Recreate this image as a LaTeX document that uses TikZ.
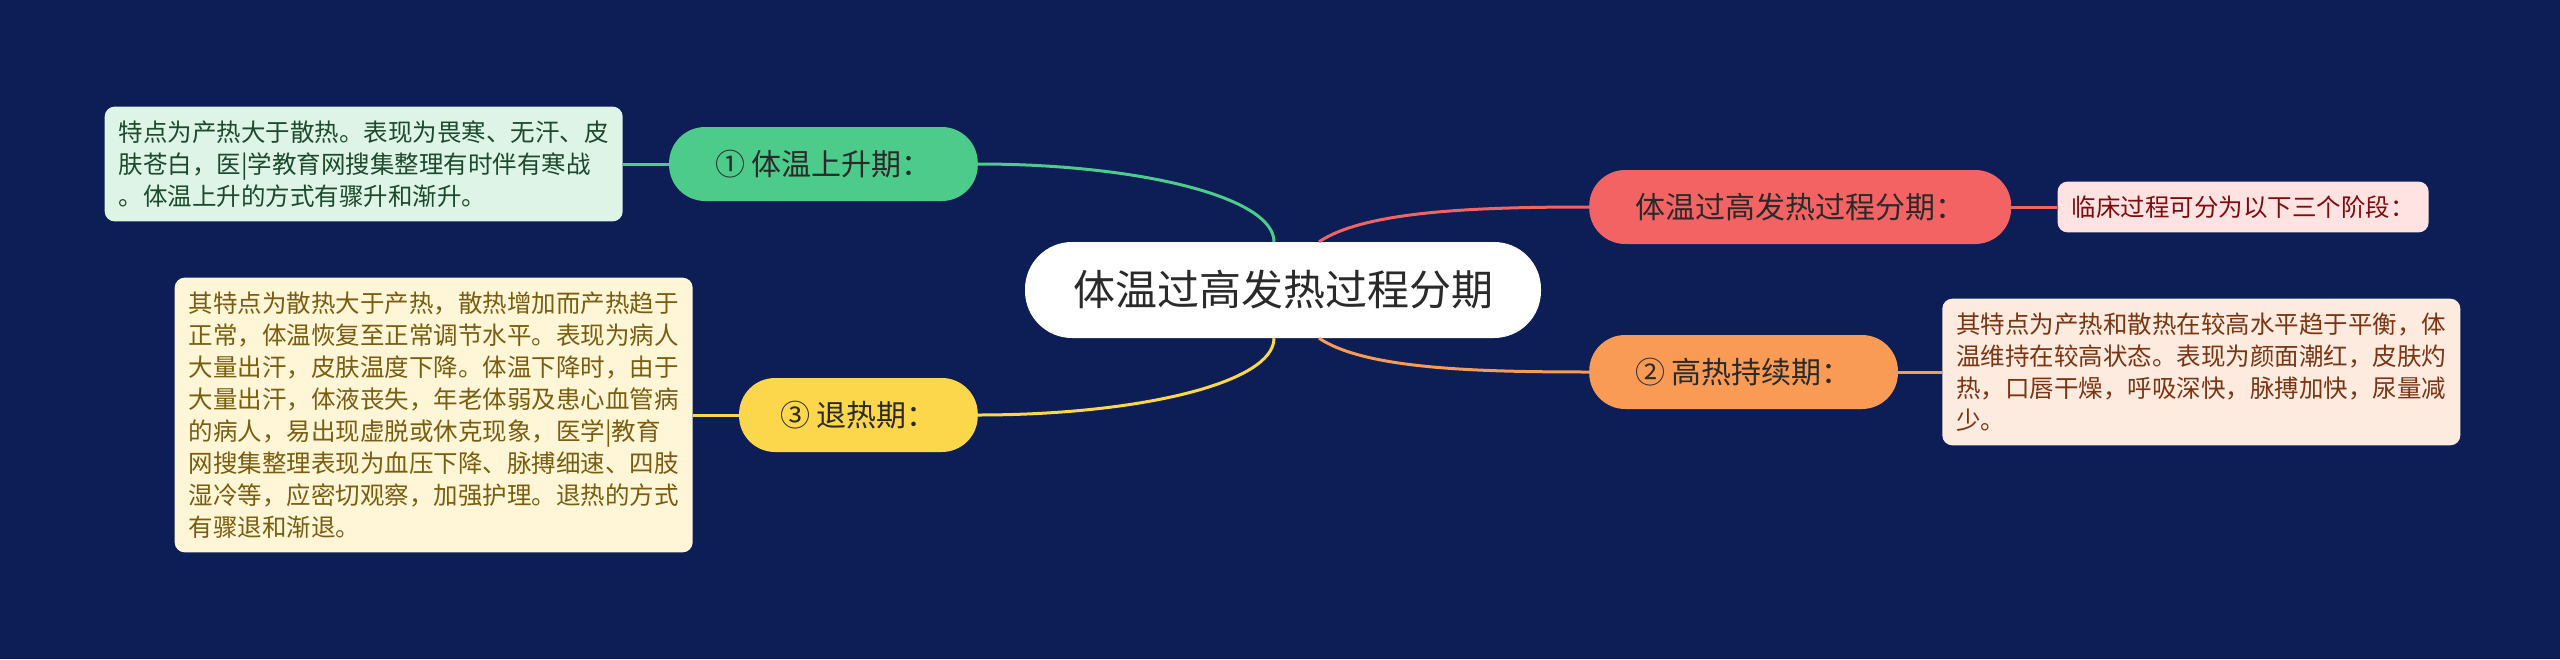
\documentclass[tikz,border=0pt]{standalone}
\usepackage{fontspec}
\setmainfont{Noto Sans CJK SC}
\usetikzlibrary{positioning}
\definecolor{bgnavy}{HTML}{0D1D55}
\definecolor{gmain}{HTML}{4CCB8B}
\definecolor{rmain}{HTML}{F46363}
\definecolor{omain}{HTML}{F99B55}
\definecolor{ymain}{HTML}{FDD74B}
\definecolor{glight}{HTML}{DDF4E7}
\definecolor{rlight}{HTML}{FFE2E2}
\definecolor{olight}{HTML}{FDEBE0}
\definecolor{ylight}{HTML}{FFF6D8}
\definecolor{gink}{HTML}{1D4A2C}
\definecolor{rink}{HTML}{7D0C0C}
\definecolor{oink}{HTML}{7A3512}
\definecolor{yink}{HTML}{7A5D10}
\definecolor{topicink}{HTML}{2A2A2A}
\tikzset{
  topic/.style={rounded corners=36pt, minimum height=74pt, inner xsep=46pt,
    inner ysep=0pt, text=topicink, font=\fontsize{30}{36}\selectfont},
  note/.style={rounded corners=10pt, inner xsep=14pt, inner ysep=14pt,
    align=left, font=\fontsize{24.5}{32}\selectfont},
  branch/.style={line width=3pt},
}
\begin{document}
\begin{tikzpicture}[x=1pt,y=-1pt]
  \fill[bgnavy] (0,0) rectangle (2560,659);
  \useasboundingbox (0,0) rectangle (2560,659);
  % root
  \node[fill=white, rounded corners=47pt, minimum height=96pt, inner xsep=48pt,
    text=topicink, font=\fontsize{42}{48}\selectfont] (root) at (1283,290) {体温过高发热过程分期};
  % left side
  \node[topic, fill=gmain, anchor=east] (rise) at (978,164) {① 体温上升期：};
  \node[topic, fill=ymain, anchor=east, inner xsep=41pt] (fall) at (978,415) {③ 退热期：};
  \node[note, fill=glight, text=gink, left=46pt of rise] (risenote)
    {特点为产热大于散热。表现为畏寒、无汗、皮\\肤苍白，医|学教育网搜集整理有时伴有寒战\\。体温上升的方式有骤升和渐升。};
  \node[note, fill=ylight, text=yink, left=46pt of fall] (fallnote)
    {其特点为散热大于产热，散热增加而产热趋于\\正常，体温恢复至正常调节水平。表现为病人\\大量出汗，皮肤温度下降。体温下降时，由于\\大量出汗，体液丧失，年老体弱及患心血管病\\的病人，易出现虚脱或休克现象，医学|教育\\网搜集整理表现为血压下降、脉搏细速、四肢\\湿冷等，应密切观察，加强护理。退热的方式\\有骤退和渐退。};
  % right side
  \node[topic, fill=rmain, anchor=west] (hot) at (1589,207) {体温过高发热过程分期：};
  \node[topic, fill=omain, anchor=west] (keep) at (1589,372) {② 高热持续期：};
  \node[note, fill=rlight, text=rink, right=46pt of hot] (hotnote) {临床过程可分为以下三个阶段：};
  \node[note, fill=olight, text=oink, right=44pt of keep] (keepnote)
    {其特点为产热和散热在较高水平趋于平衡，体\\温维持在较高状态。表现为颜面潮红，皮肤灼\\热，口唇干燥，呼吸深快，脉搏加快，尿量减\\少。};
  % branches
  \draw[branch, gmain] ([xshift=-9pt]root.north) .. controls +(0,-45) and +(160,0) .. (rise.east);
  \draw[branch, ymain] ([xshift=-9pt]root.south) .. controls +(0,45) and +(160,0) .. (fall.east);
  \draw[branch, rmain] ([xshift=36pt]root.north) .. controls +(45,-30) and +(-120,0) .. (hot.west);
  \draw[branch, omain] ([xshift=36pt]root.south) .. controls +(45,30) and +(-120,0) .. (keep.west);
  \draw[branch, gmain] (rise.west) -- (risenote.east);
  \draw[branch, ymain] (fall.west) -- (fallnote.east);
  \draw[branch, rmain] (hot.east) -- (hotnote.west);
  \draw[branch, omain] (keep.east) -- (keepnote.west);
\end{tikzpicture}
\end{document}
